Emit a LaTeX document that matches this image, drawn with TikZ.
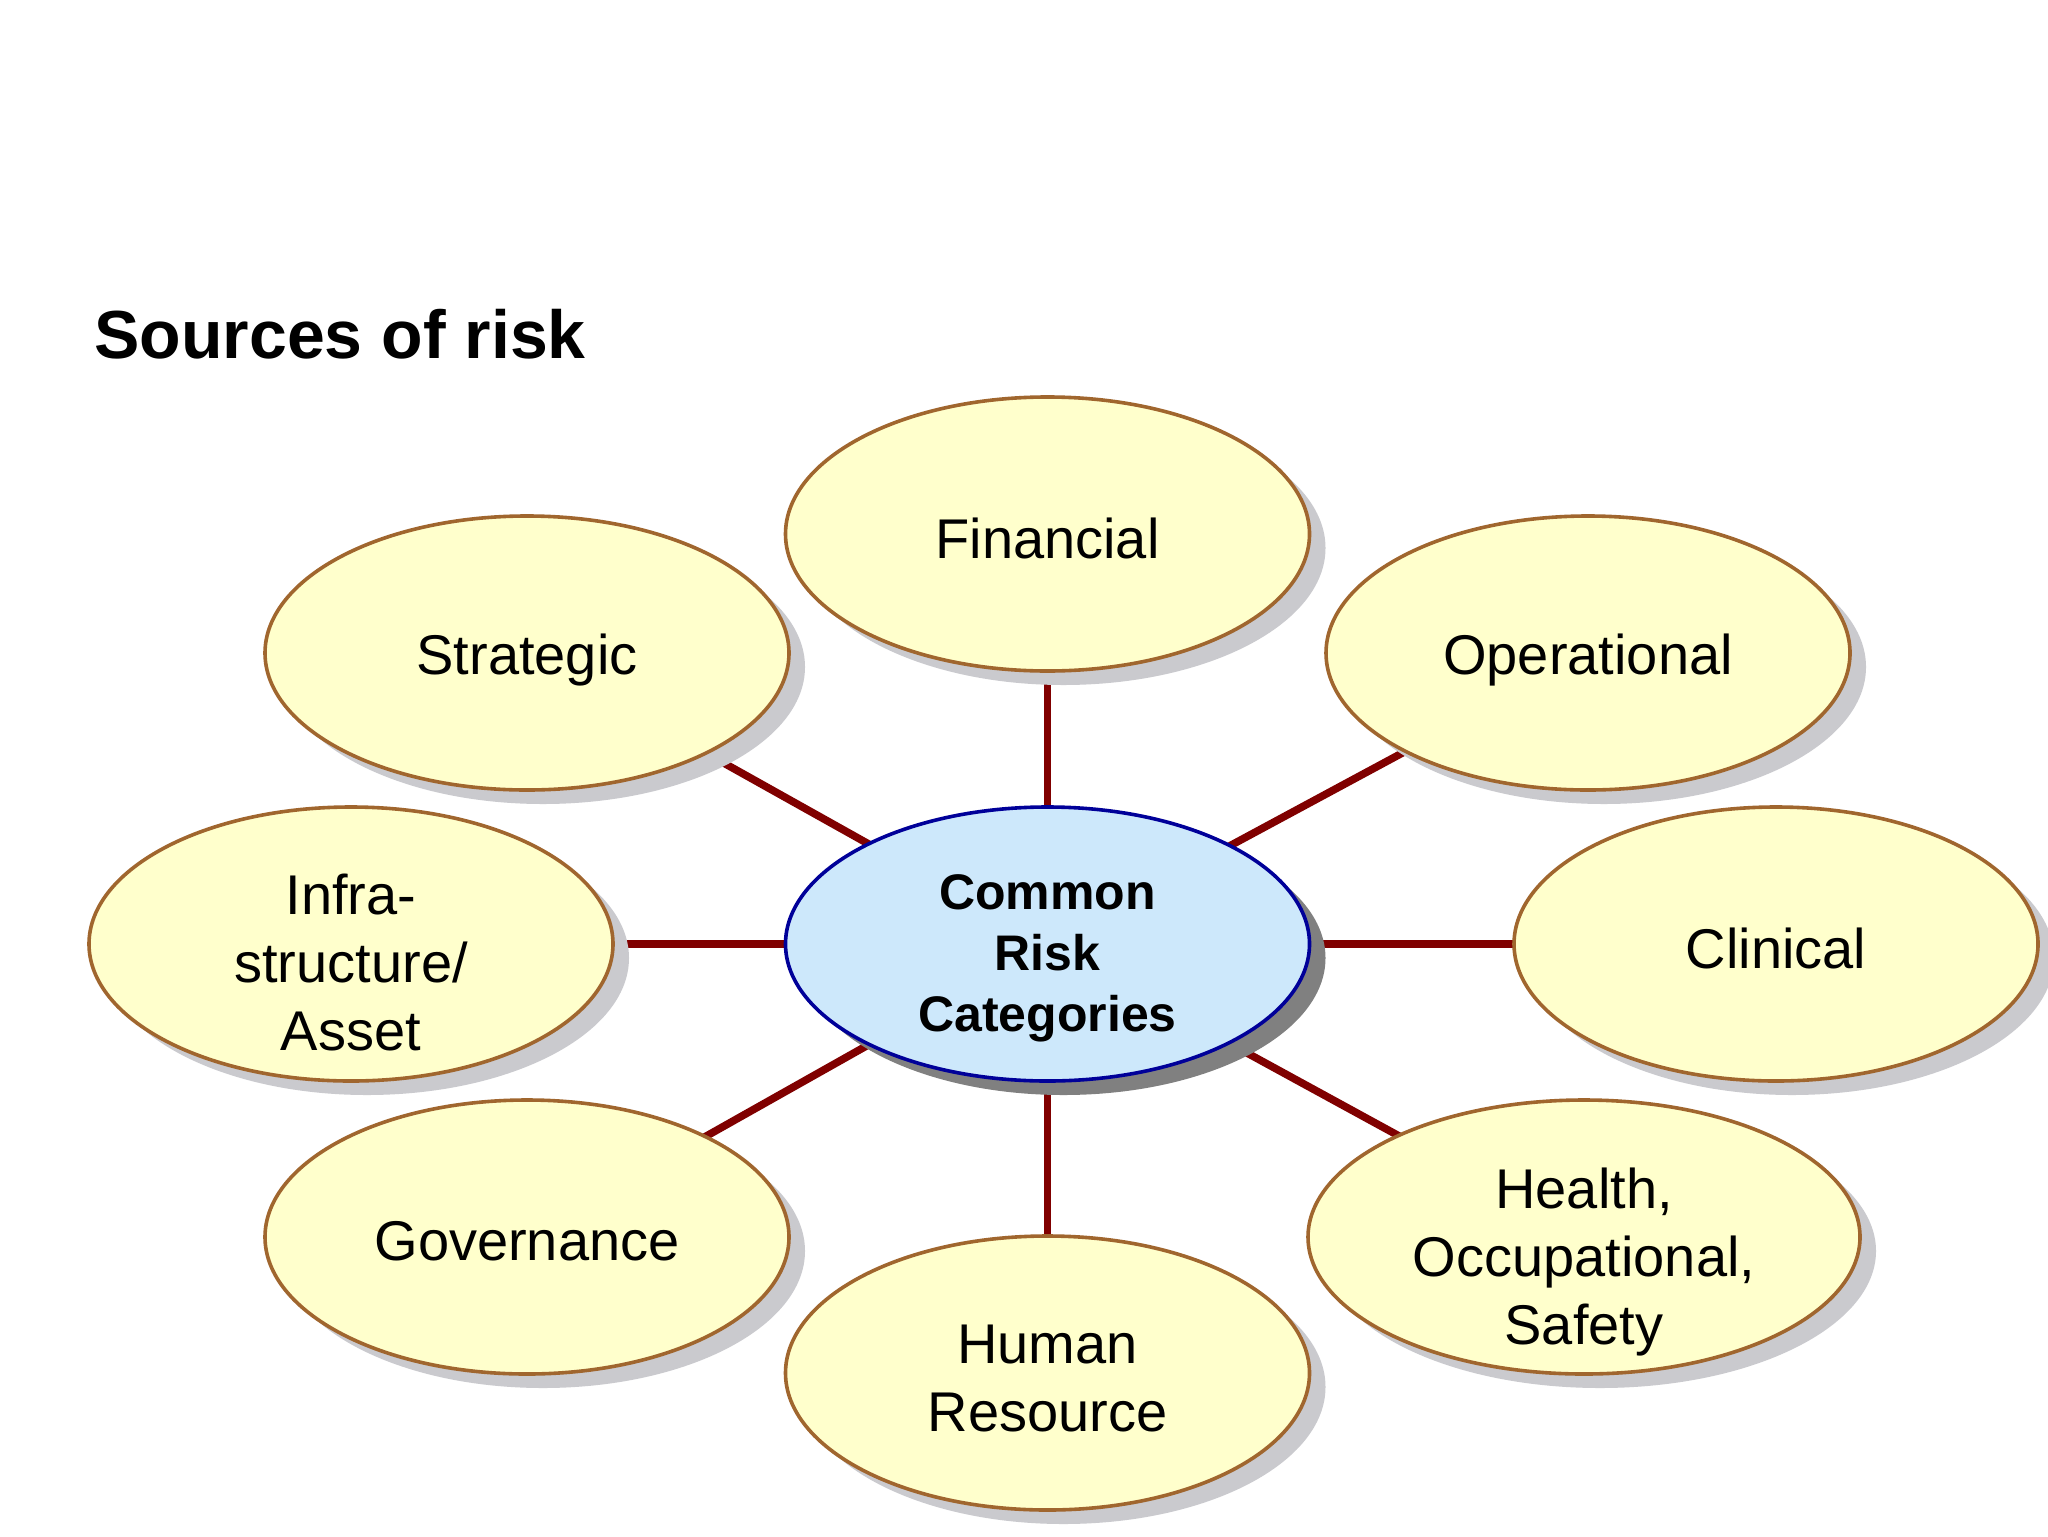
\documentclass[tikz,border=0pt]{standalone}
\usepackage{fontspec}
\setmainfont{Liberation Sans}
\usetikzlibrary{shapes.geometric,shadows,backgrounds}
\definecolor{bubfill}{HTML}{FFFFCC}
\definecolor{bubline}{HTML}{A0662E}
\definecolor{hubfill}{HTML}{CDE8FB}
\definecolor{hubline}{HTML}{000099}
\definecolor{linkred}{HTML}{800000}
\definecolor{shadowlight}{HTML}{CACACE}
\definecolor{shadowdark}{HTML}{808080}
\begin{document}
\begin{tikzpicture}[x=0.5pt,y=-0.5pt,
  bubble/.style={ellipse, draw=bubline, line width=1.8pt, fill=bubfill,
    minimum width=262pt, minimum height=137pt, inner sep=0pt,
    drop shadow={shadow xshift=8pt, shadow yshift=-7pt, fill=shadowlight, opacity=1}},
  hub/.style={ellipse, draw=hubline, line width=1.8pt, fill=hubfill,
    minimum width=262pt, minimum height=137pt, inner sep=0pt,
    drop shadow={shadow xshift=8pt, shadow yshift=-7pt, fill=shadowdark, opacity=1}},
  bubtext/.style={inner sep=0pt, align=center, font=\fontsize{28}{34}\selectfont},
  hubtext/.style={inner sep=0pt, align=center, font=\fontsize{25}{30.5}\selectfont\bfseries},
  link/.style={draw=linkred, line width=3.8pt}]
\useasboundingbox (0,0) rectangle (2048,1536);

\node[anchor=base west, font=\fontsize{34}{40}\selectfont\bfseries, inner sep=0pt] (title) at (94,358) {Sources of risk};

\node[hub] (hub) at (1047.5,944) {};
\node[bubble] (fin) at (1047.5,534) {};
\node[bubble] (str) at (527,653) {};
\node[bubble] (ope) at (1588,653) {};
\node[bubble] (inf) at (351,944) {};
\node[bubble] (cli) at (1776,944) {};
\node[bubble] (gov) at (527,1237) {};
\node[bubble, minimum width=276pt] (hea) at (1584,1237) {};
\node[bubble] (hum) at (1047.5,1373) {};

\node[hubtext] (hub-t) at (1047.5,958) {Common\\Risk\\Categories};
\node[bubtext] (fin-t) at (1047.5,538) {Financial};
\node[bubtext] (str-t) at (527,660) {Strategic};
\node[bubtext] (ope-t) at (1588,660) {Operational};
\node[bubtext] (inf-t) at (351,962) {Infra-\\structure/\\Asset};
\node[bubtext] (cli-t) at (1776,948) {Clinical};
\node[bubtext] (gov-t) at (527,1241) {Governance};
\node[bubtext] (hea-t) at (1584,1262) {Health,\\Occupational,\\Safety};
\node[bubtext] (hum-t) at (1047.5,1378) {Human\\Resource};

\begin{scope}[on background layer]
  \fill[white] (0,0) rectangle (2048,1536);
  \foreach \n in {fin,str,ope,inf,cli,gov,hea,hum}
    \draw[link] (hub.center) -- (\n.center);
\end{scope}
\end{tikzpicture}
\end{document}
